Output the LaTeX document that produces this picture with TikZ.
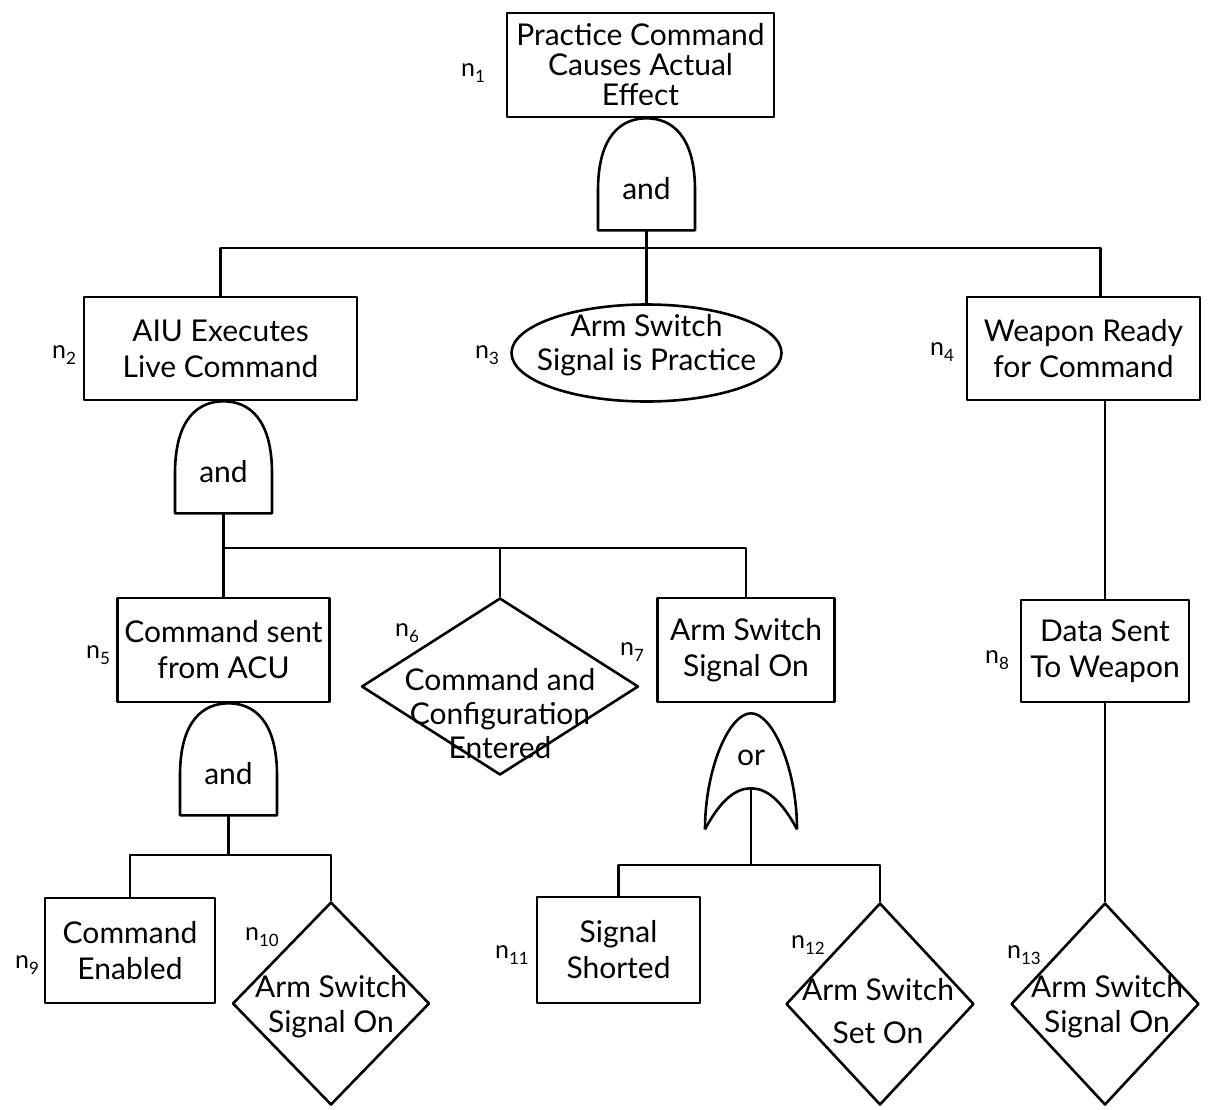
\documentclass[tikz,border=0pt]{standalone}
\usepackage{fontspec}
\setmainfont{Lato}
\usetikzlibrary{shapes.geometric}
\newcommand\nl[1]{n\raisebox{-6pt}{\fontsize{17}{17}\selectfont #1}}
\begin{document}
\begin{tikzpicture}[x=1pt,y=-1pt,line width=2.6pt,line join=round,
  evbox/.style={draw, rectangle, align=center, inner sep=0pt, font=\fontsize{30}{36}\selectfont},
  evdia/.style={draw, diamond, inner sep=0pt},
  evtxt/.style={align=center, inner sep=0pt, font=\fontsize{30}{36}\selectfont},
  nlab/.style={inner sep=0pt, font=\fontsize{25}{25}\selectfont},
  andgate/.pic={
    \draw (-48.5,112) -- (-48.5,72) .. controls (-48.5,17) and (-25,0) .. (0,0) .. controls (25,0) and (48.5,17) .. (48.5,72) -- (48.5,112) -- cycle;
    \node[evtxt] (-t) at (0,70) {and};
    \coordinate (-b) at (0,112);
  },
  orgate/.pic={
    \draw (-46,116) .. controls (-46,56) and (-22,0) .. (0,0) .. controls (22,0) and (46,56) .. (46,116);
    \draw (-46,116) .. controls (-30,86) and (-15,75) .. (0,75) .. controls (15,75) and (30,86) .. (46,116);
    \node[evtxt] (-t) at (0,45) {or};
    \coordinate (-b) at (0,75);
  }]
\useasboundingbox (0,0) rectangle (1229,1109);
\fill[white] (0,0) rectangle (1229,1109);

% boxes
\node[evbox, minimum width=267pt, minimum height=104pt, font=\fontsize{30}{30}\selectfont] (n1) at (640.5,65) {Practice Command\\Causes Actual\\Effect};
\node[evbox, minimum width=273pt, minimum height=103pt] (n2) at (220.5,348.5) {AIU Executes\\Live Command};
\node[draw, ellipse, inner sep=0pt, minimum width=270pt, minimum height=97pt] (n3) at (646.5,353) {};
\node[evtxt, font=\fontsize{30}{34}\selectfont] (n3t) at (646.5,345) {Arm Switch\\Signal is Practice};
\node[evbox, minimum width=233pt, minimum height=103pt] (n4) at (1083.5,348.5) {Weapon Ready\\for Command};
\node[evbox, minimum width=212pt, minimum height=104pt] (n5) at (223.5,650) {Command sent\\from ACU};
\node[evdia, minimum width=277pt, minimum height=177pt] (n6) at (500,686.5) {};
\node[evtxt, font=\fontsize{30}{34}\selectfont] (n6t) at (500,714) {Command and\\Configuration\\Entered};
\node[evbox, minimum width=177pt, minimum height=104pt] (n7) at (746,650) {Arm Switch\\Signal On};
\node[evbox, minimum width=168pt, minimum height=102pt] (n8) at (1105,651) {Data Sent\\To Weapon};
\node[evbox, minimum width=170pt, minimum height=105pt] (n9) at (130,950.5) {Command\\Enabled};
\node[evdia, minimum width=197pt, minimum height=203pt] (n10) at (331,1003.5) {};
\node[evtxt, font=\fontsize{30}{35}\selectfont] (n10t) at (331,1007) {Arm Switch\\Signal On};
\node[evbox, minimum width=163pt, minimum height=106pt] (n11) at (618.5,950) {Signal\\Shorted};
\node[evdia, minimum width=188pt, minimum height=202pt] (n12) at (880,1004) {};
\node[evtxt, font=\fontsize{30}{43}\selectfont] (n12t) at (878,1011) {Arm Switch\\Set On};
\node[evdia, minimum width=188pt, minimum height=202pt] (n13) at (1105,1004) {};
\node[evtxt, font=\fontsize{30}{35}\selectfont] (n13t) at (1107,1007) {Arm Switch\\Signal On};

% labels
\node[nlab] (l1) at (473,73) {\nl{1}};
\node[nlab] (l2) at (64,355) {\nl{2}};
\node[nlab] (l3) at (487,355) {\nl{3}};
\node[nlab] (l4) at (942,352) {\nl{4}};
\node[nlab] (l5) at (98,655) {\nl{5}};
\node[nlab] (l6) at (407,633) {\nl{6}};
\node[nlab] (l7) at (632,652) {\nl{7}};
\node[nlab] (l8) at (997,660) {\nl{8}};
\node[nlab] (l9) at (27,965) {\nl{9}};
\node[nlab] (l10) at (262,937) {\nl{10}};
\node[nlab] (l11) at (512,955) {\nl{11}};
\node[nlab] (l12) at (808,945) {\nl{12}};
\node[nlab] (l13) at (1024,955) {\nl{13}};

% gates
\pic (g1) at ([xshift=6pt]n1.south) {andgate};
\pic (g2) at ([xshift=3pt]n2.south) {andgate};
\pic (g3) at ([xshift=5pt]n5.south) {andgate};
\pic (g4) at ([xshift=5pt,yshift=-10pt]n7.south) {orgate};

% junctions
\coordinate (j1) at (g1-b |- 0,248);
\coordinate (j2) at (g2-b |- 0,548);
\coordinate (j3) at (g3-b |- 0,855);
\coordinate (j4) at (g4-b |- 0,865);

% connectors
\draw (g1-b) -- (j1);
\draw (j1) -| (n2.north);
\draw (j1) -- (n3.north);
\draw (j1) -| ([xshift=17pt]n4.north);
\draw (g2-b) -- (j2) -- (n5.north);
\draw (j2) -| (n6.north);
\draw (j2) -| (n7.north);
\draw (g3-b) -- (j3);
\draw (j3) -| (n9.north);
\draw (j3) -| (n10.north);
\draw (g4-b) -- (j4);
\draw (j4) -| (n11.north);
\draw (j4) -| (n12.north);
\draw (n4.south -| n8.north) -- (n8.north);
\draw (n8.south) -- (n13.north);
\end{tikzpicture}
\end{document}
